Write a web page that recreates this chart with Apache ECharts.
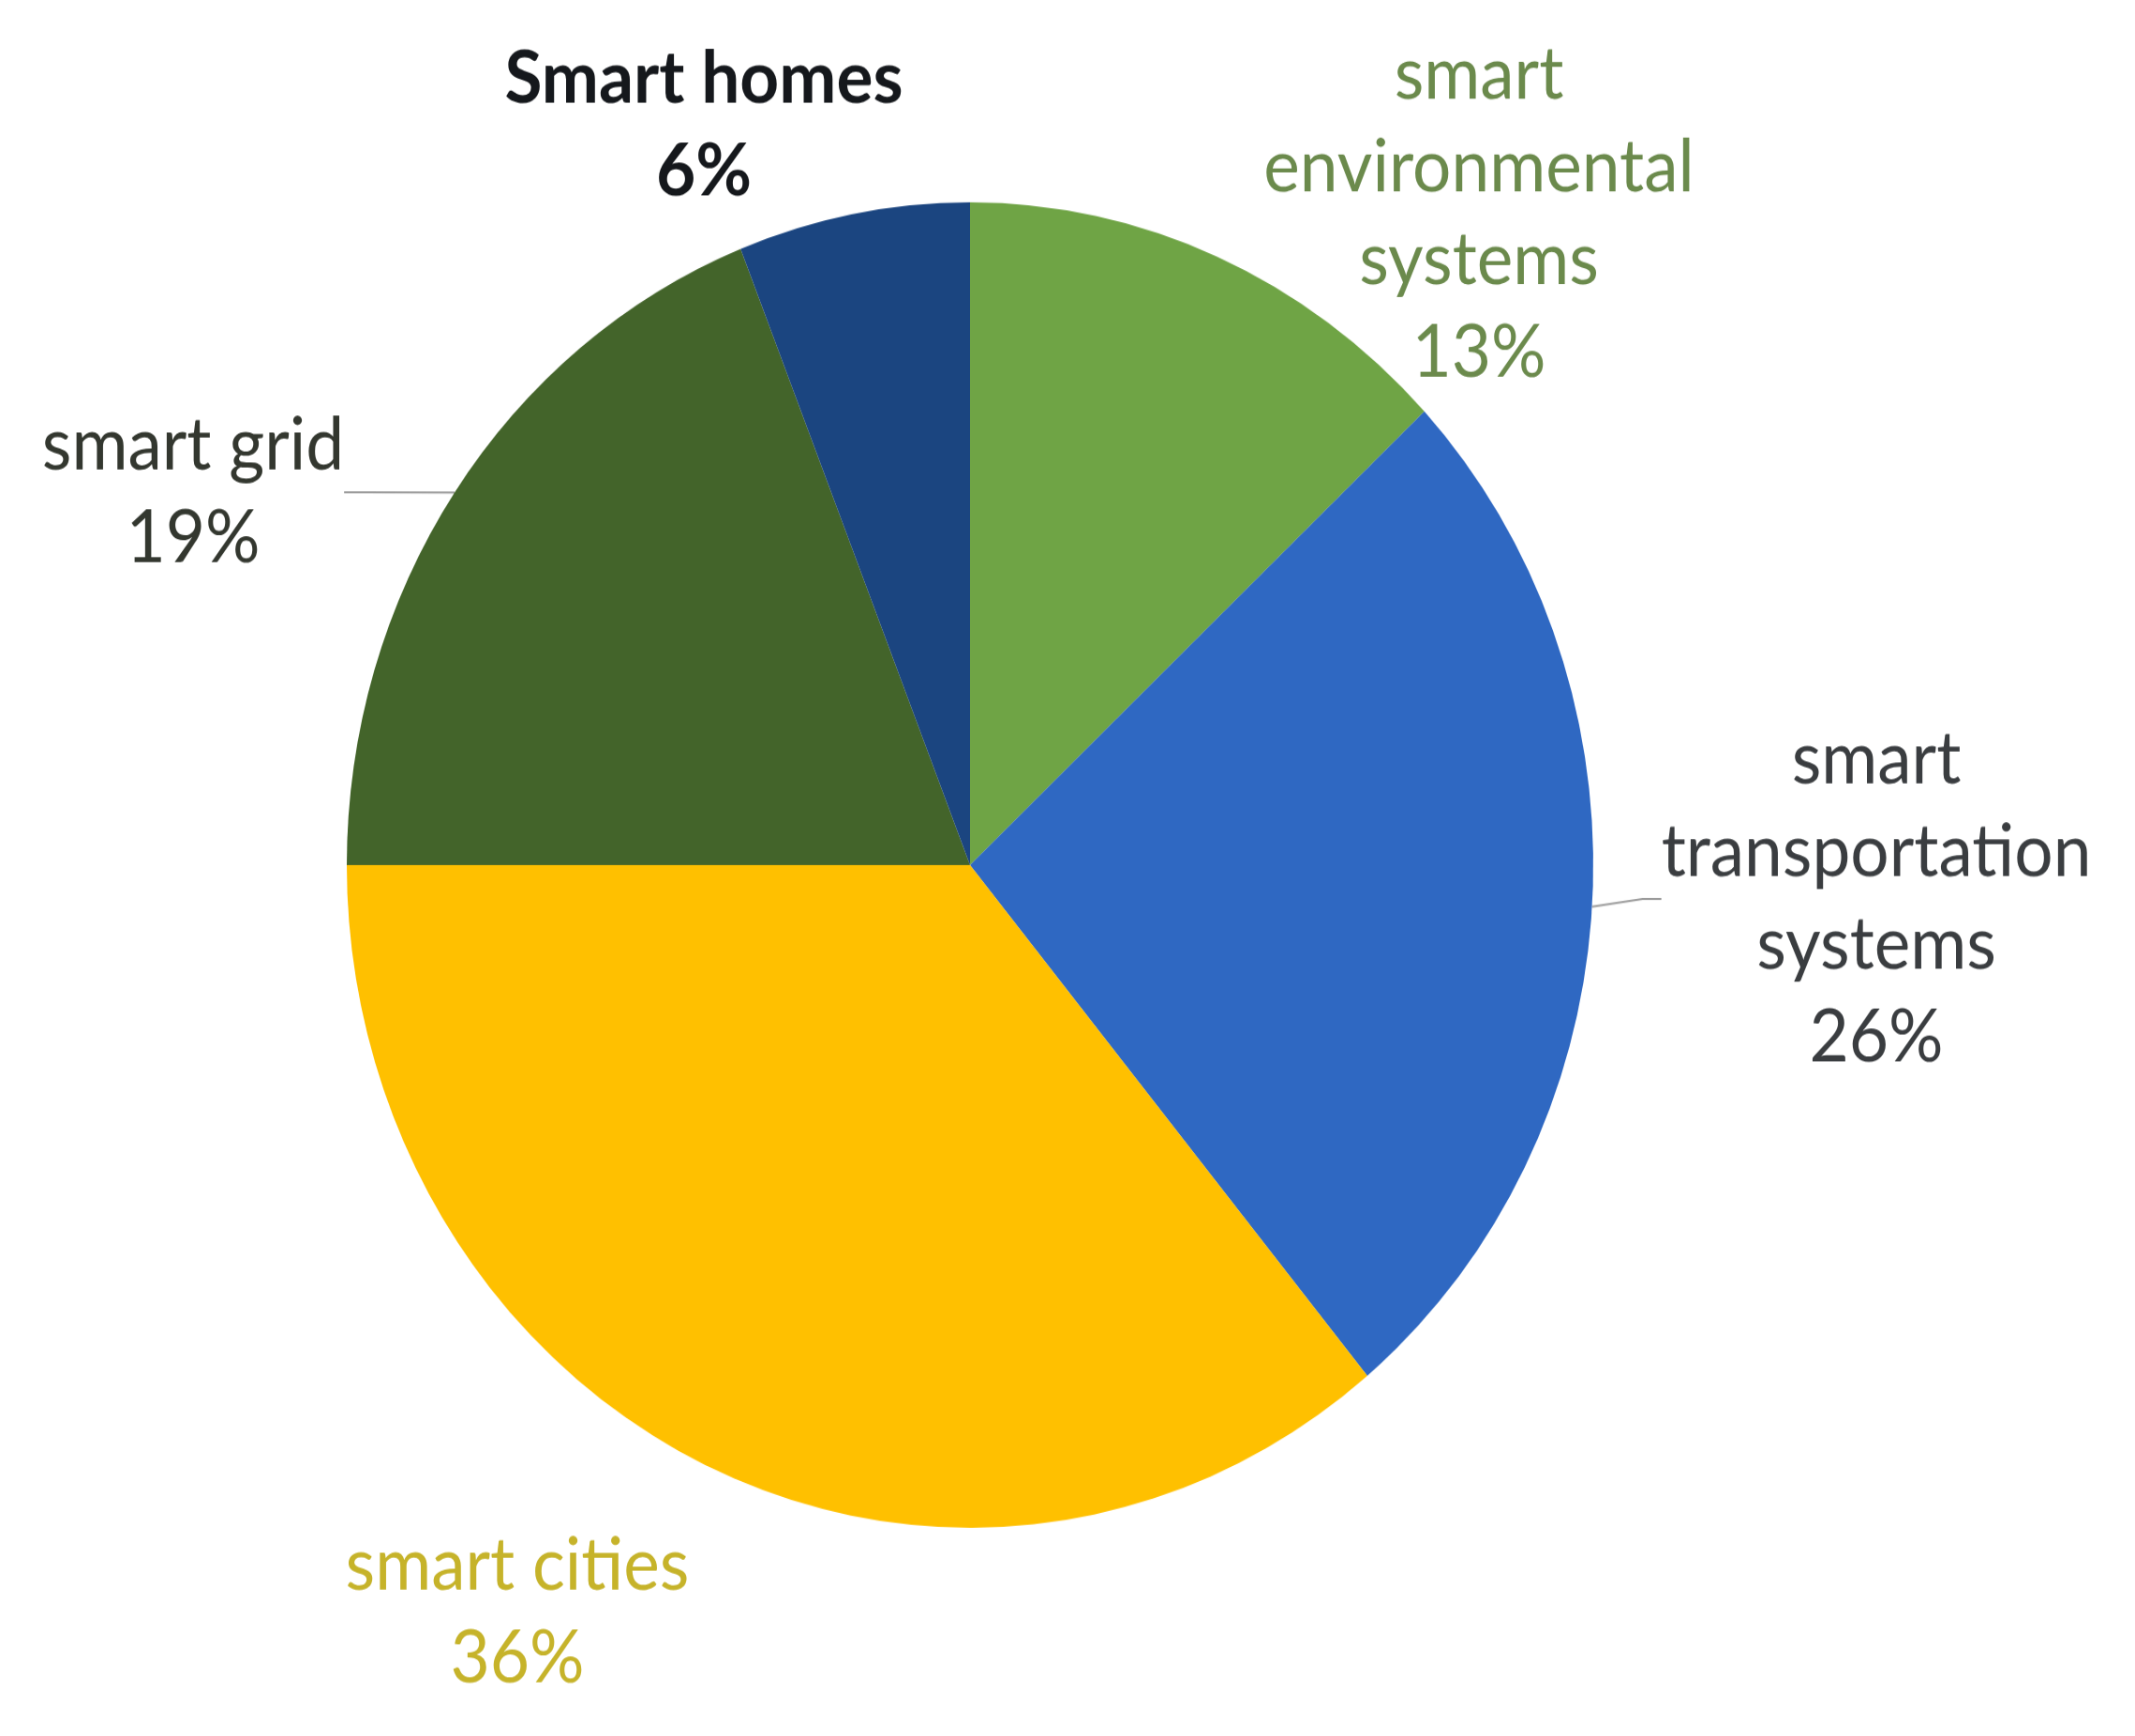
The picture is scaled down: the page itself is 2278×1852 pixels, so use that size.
<!DOCTYPE html>
<html>
<head>
<meta charset="utf-8">
<script src="https://cdn.jsdelivr.net/npm/echarts@6/dist/echarts.min.js"></script>
<style>
html, body { margin: 0; padding: 0; background: #fff; width: 2278px; height: 1852px; }
/* the source picture is a little taller than wide, so the chart is stretched vertically */
#chartPie {
  width: 2278px;
  height: 1742px;
  transform: scaleY(1.0632);
  transform-origin: 0 0;
}
</style>
</head>
<body>
<div id="chartPie"></div>
<script>
// slices, clockwise from 12 o'clock
var names = ['smart\nenvironmental\nsystems', 'smart\ntransportation\nsystems', 'smart cities', 'smart grid', 'Smart homes'];
var values = [13, 26, 36, 19, 6];
var colors = ['#6fa445', '#2f68c2', '#ffc000', '#43642a', '#1b4580'];
var labelColors = ['#6b8a4c', '#3a3d40', '#c6b32a', '#33372f', '#15181c'];

// where each label block sits (centre, in chart px)
var labelPos = [[1578, 215], [2002, 902], [552, 1618], [206, 494], [751, 126]];
var showLine = [false, true, false, true, false];

var myChart = echarts.init(document.getElementById('chartPie'));

var seriesData = [];
for (var i = 0; i < names.length; i++) {
  seriesData.push({
    name: names[i],
    value: values[i],
    itemStyle: { color: colors[i] },
    label: {
      color: labelColors[i],
      fontWeight: i === 4 ? 'bold' : 'normal'
    },
    labelLine: { show: showLine[i] }
  });
}

myChart.setOption({
  backgroundColor: '#ffffff',
  animation: false,
  series: [
    {
      type: 'pie',
      center: [1035, 868],
      radius: 665,
      startAngle: 90,
      clockwise: true,
      data: seriesData,
      label: {
        show: true,
        position: 'outside',
        formatter: '{b}\n{d}%',
        fontFamily: 'Lato',
        fontSize: 73,
        lineHeight: 93,
        align: 'center'
      },
      labelLine: {
        show: true,
        length: 20,
        length2: 20,
        lineStyle: { color: '#9a9a9a', width: 2 }
      },
      labelLayout: function (params) {
        var p = labelPos[params.dataIndex];
        return {
          x: p[0],
          y: p[1],
          align: 'center',
          verticalAlign: 'middle'
        };
      }
    }
  ]
});
</script>
</body>
</html>
